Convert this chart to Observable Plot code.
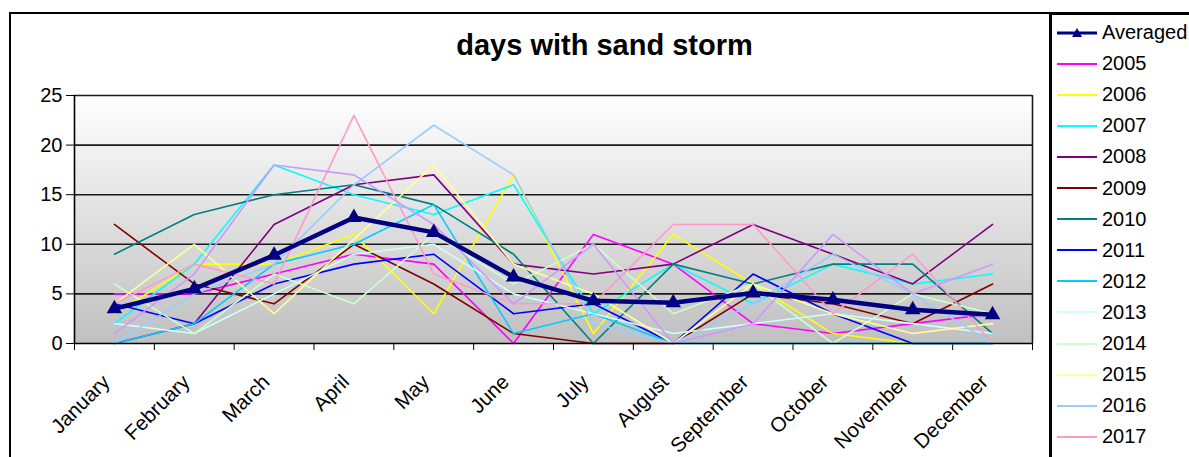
<!DOCTYPE html>
<html><head><meta charset="utf-8">
<script src="https://cdn.jsdelivr.net/npm/d3@7"></script>
<script src="https://cdn.jsdelivr.net/npm/@observablehq/plot@0.6"></script>
<style>
body{margin:0;background:#fff;font-family:"Liberation Sans",Arial,sans-serif;}
#wrap{position:relative;width:1189px;height:457px;overflow:hidden;background:#fff;}
#frame{position:absolute;left:9px;top:12px;width:1100px;height:500px;border-left:2px solid #000;border-top:2px solid #000;}
#bg{position:absolute;left:74px;top:95px;width:958px;height:248px;background:linear-gradient(#ffffff,#c0c0c0);}
#chart{position:absolute;left:0;top:0;}
#title{position:absolute;left:10px;width:1189px;top:29px;text-align:center;font-weight:bold;font-size:29px;color:#000;}
#legend{position:absolute;left:1049px;top:12px;width:170px;height:500px;border:3px solid #000;background:#fff;}
.item{position:absolute;left:5px;height:31px;display:flex;align-items:center;font-size:20px;color:#000;}
.item svg{margin-right:5px;}
</style></head><body>
<div id="wrap">
  <div id="frame"></div>
  <div id="bg"></div>
  <div id="chart"></div>
  <div id="title">days with sand storm</div>
  <div id="legend"></div>
</div>
<script>
const months = ["January","February","March","April","May","June","July","August","September","October","November","December"];
const yTicks = [0,5,10,15,20,25];
const averaged = [3.5,5.5,8.9,12.7,11.2,6.7,4.3,4.1,5.1,4.4,3.4,2.9];
const y2005 = [5,5,7,9,8,0,11,8,2,1,2,3];
const y2006 = [3,8,8,11,3,17,1,11,6,1,0,0];
const y2007 = [2,8,18,15,13,16,3,8,4,8,6,7];
const y2008 = [0,2,12,16,17,8,7,8,12,9,6,12];
const y2009 = [12,6,4,10,6,1,0,0,5,4,2,6];
const y2010 = [9,13,15,16,14,9,0,8,6,8,8,1];
const y2011 = [4,2,6,8,9,3,4,0,7,3,0,0];
const y2012 = [0,2,8,10,14,1,3,0,0,0,0,0];
const y2013 = [2,1,5,9,10,5,3,1,2,3,2,1];
const y2014 = [6,1,7,4,11,6,10,3,6,0,5,3];
const y2015 = [4,10,3,10.5,18,8,5,0,6,3,1,2];
const y2016 = [0,5,8,16,22,17,2,0,4,9,5,0];
const y2017 = [4,8,6,23,7,4,4,12,12,3,9,0];
const y2018 = [1,7,18,17,12,4,10,0,2,11,5,8];

const seriesNames = ["2005","2006","2007","2008","2009","2010","2011","2012","2013","2014","2015","2016","2017","2018"];
const seriesValues = [y2005,y2006,y2007,y2008,y2009,y2010,y2011,y2012,y2013,y2014,y2015,y2016,y2017,y2018];
const palette = ["#ff00ff","#ffff00","#00ffff","#800080","#800000","#008080","#0000ff","#00ccff","#ccffff","#ccffcc","#ffff99","#99ccff","#ff99cc","#cc99ff"];
const avgColor = "#000080";
const legendShown = 13; // entries visible in the legend box (2005–2017)

const rows = seriesNames.flatMap((s, k) => seriesValues[k].map((v, i) => ({series: s, i, value: v})));
const avgRows = averaged.map((v, i) => ({i, value: v}));
const labelRows = months.map((m, i) => ({m, i}));
const pos = d => d.i + 0.5;

const chart = Plot.plot({
  width: 1040,
  height: 457,
  marginLeft: 74,
  marginRight: 8,
  marginTop: 95,
  marginBottom: 114,
  style: {fontFamily: '"Liberation Sans", Arial, sans-serif', fontSize: "20px", color: "#000", background: "transparent", overflow: "visible"},
  x: {domain: [0, 12], ticks: 12, tickSize: 7, tickFormat: () => "", label: null},
  y: {domain: [0, 25], ticks: yTicks, tickSize: 8, tickPadding: 4, label: null},
  color: {domain: seriesNames, range: palette},
  marks: [
    Plot.ruleY(yTicks.slice(1), {stroke: "#1a1a1a", strokeWidth: 1.6}),
    Plot.ruleX([12], {stroke: "#1a1a1a", strokeWidth: 1.6}),
    Plot.line(rows, {x: pos, y: "value", z: "series", stroke: "series", strokeWidth: 1.6}),
    Plot.line(avgRows, {x: pos, y: "value", stroke: avgColor, strokeWidth: 4.5}),
    Plot.dot(avgRows, {x: pos, y: "value", symbol: "triangle", r: 4.8, fill: avgColor, stroke: avgColor}),
    Plot.ruleX([0], {stroke: "#000", strokeWidth: 1.6}),
    Plot.ruleY([0], {stroke: "#000", strokeWidth: 1.6}),
    Plot.text(labelRows, {x: pos, y: () => 0, text: "m", rotate: -45, textAnchor: "end", dx: -8, dy: 35, fontSize: 20.5, fill: "#000"})
  ]
});
document.getElementById("chart").appendChild(chart);

// legend
const legend = document.getElementById("legend");
const legendEntries = [{name: "Averaged", color: avgColor, avg: true}]
  .concat(seriesNames.slice(0, legendShown).map((s, k) => ({name: s, color: palette[k]})));
legendEntries.forEach((e, k) => {
  const div = document.createElement("div");
  div.className = "item";
  div.style.top = (2 + k * 31.1) + "px";
  const svg = e.avg
    ? `<svg width="40" height="12"><line x1="0" y1="6" x2="40" y2="6" stroke="${e.color}" stroke-width="3"/><path d="M20,1 L25,10 L15,10 Z" fill="${e.color}"/></svg>`
    : `<svg width="40" height="12"><line x1="0" y1="6" x2="40" y2="6" stroke="${e.color}" stroke-width="2"/></svg>`;
  div.innerHTML = svg + `<span>${e.name}</span>`;
  legend.appendChild(div);
});
</script>
</body></html>
